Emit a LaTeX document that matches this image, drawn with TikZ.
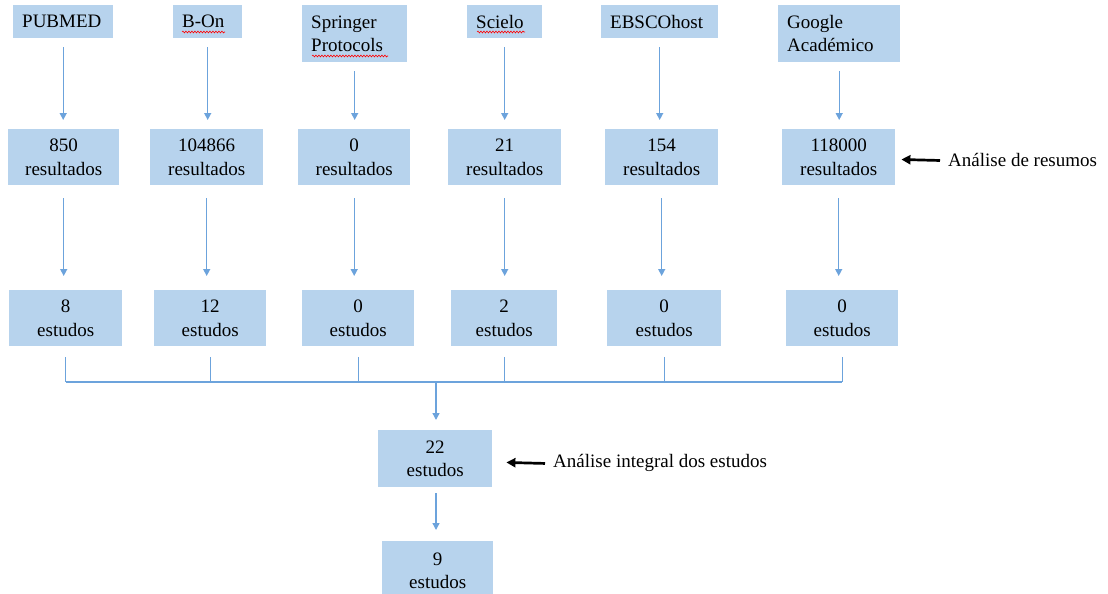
\documentclass[tikz,border=0pt]{standalone}
\usepackage{fontspec}
\setmainfont{Liberation Serif}
\usetikzlibrary{arrows.meta,decorations.pathmorphing}
\definecolor{boxblue}{RGB}{183,211,237}
\definecolor{lineblue}{RGB}{108,163,220}
\tikzset{
  txt/.style={font=\fontsize{19}{23.5}\selectfont},
  topbox/.style={txt, fill=boxblue, anchor=north west, inner xsep=9pt, inner ysep=0pt, align=left},
  cbox/.style={txt, fill=boxblue, anchor=north west, inner sep=0pt, align=center},
  bline/.style={draw=lineblue, line width=1.4pt},
  barr/.style={bline, -{Triangle[length=7pt,width=7pt]}},
  karr/.style={draw=black, line width=2.7pt, -{Triangle[length=9pt,width=9pt]}},
  note/.style={txt, inner sep=0pt, anchor=base west},
  spell/.style={draw=red, line width=0.6pt, decorate, decoration={snake, amplitude=0.9pt, segment length=3pt}}
}
\begin{document}
\begin{tikzpicture}[x=1pt,y=-1pt]
\useasboundingbox (0,0) rectangle (1108,594);
\clip (0,0) rectangle (1108,594);
% top row
\node[topbox, text width=82pt, minimum width=100pt, minimum height=33pt] (pub) at (13,5) {PUBMED};
\node[topbox, text width=51pt, minimum width=69pt, minimum height=33pt] (bon) at (173,5) {B-On};
\node[topbox, text width=87pt, minimum width=105pt, minimum height=57pt] (spr) at (302,5) {Springer\\Protocols};
\node[topbox, text width=57pt, minimum width=75pt, minimum height=33pt] (sci) at (467,5) {Scielo};
\node[topbox, text width=99pt, minimum width=117pt, minimum height=33pt] (ebs) at (601,5) {EBSCOhost};
\node[topbox, text width=104pt, minimum width=122pt, minimum height=57pt] (goo) at (778,5) {Google\\Académico};
% results row
\node[cbox, minimum width=111pt, minimum height=56pt] (r1) at (8,129) {850\\resultados};
\node[cbox, minimum width=113pt, minimum height=56pt] (r2) at (150,129) {104866\\resultados};
\node[cbox, minimum width=112pt, minimum height=56pt] (r3) at (298,129) {0\\resultados};
\node[cbox, minimum width=113pt, minimum height=56pt] (r4) at (448,129) {21\\resultados};
\node[cbox, minimum width=113pt, minimum height=56pt] (r5) at (605,129) {154\\resultados};
\node[cbox, minimum width=113pt, minimum height=56pt] (r6) at (782,129) {118000\\resultados};
% studies row
\node[cbox, minimum width=113pt, minimum height=56pt] (e1) at (9,290) {8\\estudos};
\node[cbox, minimum width=112pt, minimum height=56pt] (e2) at (154,290) {12\\estudos};
\node[cbox, minimum width=112pt, minimum height=56pt] (e3) at (302,290) {0\\estudos};
\node[cbox, minimum width=106pt, minimum height=56pt] (e4) at (451,290) {2\\estudos};
\node[cbox, minimum width=114pt, minimum height=56pt] (e5) at (607,290) {0\\estudos};
\node[cbox, minimum width=112pt, minimum height=56pt] (e6) at (786,290) {0\\estudos};
% final
\node[cbox, minimum width=114pt, minimum height=57pt] (f1) at (378,430) {22\\estudos};
\node[cbox, minimum width=111pt, minimum height=59pt] (f2) at (382,541) {9\\estudos};
% notes
\node[note] (n1) at (948,166) {Análise de resumos};
\node[note] (n2) at (553,467) {Análise integral dos estudos};
% spell-check underlines
\draw[spell] (182,32) -- (225,32);
\draw[spell] (312,56) -- (388,56);
\draw[spell] (477,32) -- (525,32);
% arrows top -> results
\foreach \a/\b in {pub/r1, bon/r2, spr/r3, sci/r4, ebs/r5, goo/r6}{
  \draw[barr, shorten <=9pt, shorten >=9pt] (\a.south) -- (\a.south |- \b.north);
}
% arrows results -> studies
\foreach \a/\b in {r1/e1, r2/e2, r3/e3, r4/e4, r5/e5, r6/e6}{
  \draw[barr, shorten <=13pt, shorten >=14pt] (\a.south) -- (\a.south |- \b.north);
}
% bracket
\coordinate (bus) at (436,382);
\foreach \e in {e1,e2,e3,e4,e5,e6}{
  \draw[bline] ([yshift=-11pt]\e.south) -- (\e.south |- bus);
}
\draw[bline] (e1.south |- bus) -- (e6.south |- bus);
\draw[barr, shorten >=10pt] (bus) -- (bus |- f1.north);
\draw[barr, shorten <=6pt, shorten >=11pt] (f1.south -| bus) -- (bus |- f2.north);
% black arrows
\draw[karr] ([xshift=-8pt, yshift=-1pt]n1.west) -- ([xshift=6pt]r6.east |- n1.west);
\draw[karr] ([xshift=-8pt, yshift=-1pt]n2.west) -- ([xshift=14pt]f1.east |- n2.west);
\end{tikzpicture}
\end{document}
